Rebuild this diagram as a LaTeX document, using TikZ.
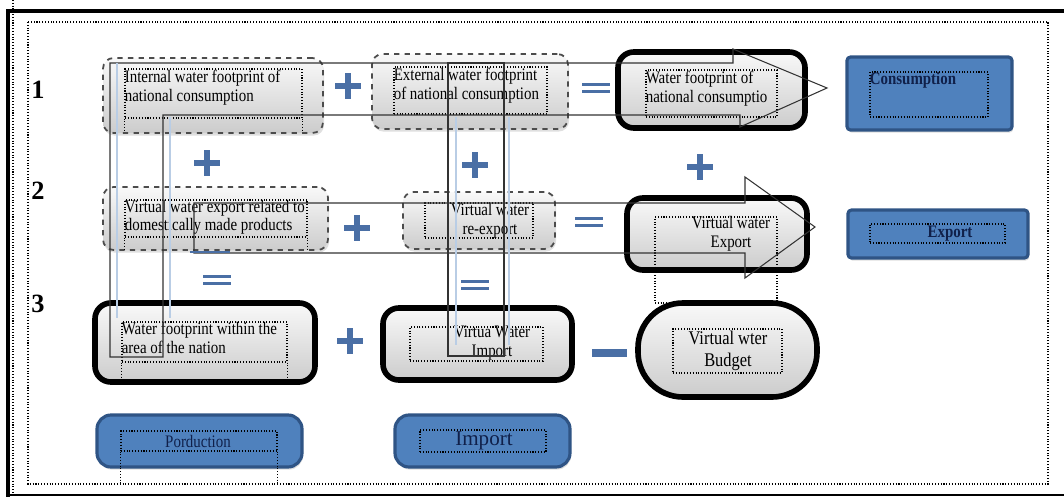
\documentclass[tikz,border=0pt]{standalone}
\usepackage{fontspec}
\setmainfont{Liberation Serif}
\newfontfamily\wordfont[FakeStretch=0.85]{Liberation Serif}
\usetikzlibrary{fit,shadows}
\definecolor{signblue}{HTML}{4A6FA5}
\definecolor{boxblue}{HTML}{4F81BD}
\definecolor{boxline}{HTML}{2F5485}
\definecolor{navy}{HTML}{10204A}
\definecolor{ghostblue}{HTML}{B9CDE5}
\begin{document}
\begin{tikzpicture}[x=0.02cm,y=-0.02cm,font=\wordfont\fontsize{10}{10.8}\selectfont,
	graybox/.style={rounded corners=6pt,top color=gray!5,bottom color=gray!40,inner sep=0pt,
		drop shadow={opacity=.25,shadow xshift=.6pt,shadow yshift=-1.5pt}},
	dashbox/.style={graybox,draw=black!70,dashed,line width=1pt},
	thickbox/.style={graybox,draw=black,line width=3.2pt,rounded corners=9pt},
	bluebox/.style={fill=boxblue,draw=boxline,line width=1.8pt,inner sep=0pt,
		drop shadow={opacity=.25,shadow xshift=.6pt,shadow yshift=-1.5pt}},
	txtframe/.style={draw,densely dotted,line width=.6pt,inner sep=0pt},
	txt/.style={inner sep=0pt,align=left},
	ctxt/.style={inner sep=0pt,align=center},
	bluetxt/.style={inner sep=0pt,text=navy,font=\wordfont\fontsize{10}{12}\selectfont},
	blockarrow/.style={draw=black!80,line width=.6pt},
	ghost/.style={ghostblue,line width=.7pt},
	plus/.style={signblue,line width=3.3pt},
	eqbar/.style={signblue,line width=1.4pt},
	num/.style={font=\rmfamily\bfseries\fontsize{15}{15}\selectfont}]
	\useasboundingbox (0,0) rectangle (1064,497);
	% frame
	\draw[line width=2.2pt] (1064,11) -- (8,11) -- (8,497);
	\draw[line width=1.2pt] (8,495) -- (1064,495);
	\draw[densely dotted,line width=.6pt] (13,0) -- (13,497);
	\draw[densely dotted,line width=.6pt] (28,22) rectangle (1048,484);
	% row numbers
	\node[num] (row1) at (38,90) {1};
	\node[num] (row2) at (38,191) {2};
	\node[num] (row3) at (38,304) {3};
	% row 1
	\node[dashbox,fit={(103,58) (323,133)}] (intern) {};
	\node[dashbox,fit={(372,54) (568,129)}] (extern) {};
	\node[thickbox,fit={(618,52) (805,128)}] (wfcons) {};
	\node[bluebox,rounded corners=2pt,fit={(847,57) (1012,130)}] (cons) {};
	% row 2
	\node[dashbox,fit={(103,187) (328,250)}] (vwexp) {};
	\node[dashbox,fit={(403,192) (555,249)}] (reexp) {};
	\node[thickbox,fit={(627,198) (807,270)}] (vwexport) {};
	\node[bluebox,rounded corners=2pt,fit={(848,210) (1028,258)}] (export) {};
	% row 3
	\node[thickbox,fit={(95,303) (315,382)}] (wfarea) {};
	\node[thickbox,fit={(383,308) (572,380)}] (vwimp) {};
	\node[thickbox,rounded corners=.9cm,fit={(638,303) (817,397)}] (budget) {};
	% row 4
	\node[bluebox,rounded corners=8pt,fit={(97,415) (302,467)}] (prod) {};
	\node[bluebox,rounded corners=8pt,fit={(395,415) (570,467)}] (import) {};
	% text frames
	\node[txtframe,fit={(125,69) (302,118)}] (intern-f) {};
	\node[txtframe,fit={(394,67) (547,114)}] (extern-f) {};
	\node[txtframe,fit={(646,70) (777,117)}] (wfcons-f) {};
	\node[txtframe,fit={(870,72) (988,117)}] (cons-f) {};
	\node[txtframe,fit={(125,200) (307,237)}] (vwexp-f) {};
	\node[txtframe,fit={(425,203) (533,238)}] (reexp-f) {};
	\node[txtframe,fit={(655,217) (777,303)}] (vwexport-f) {};
	\node[txtframe,fit={(870,224) (1005,243)}] (export-f) {};
	\node[txtframe,fit={(122,322) (287,362)}] (wfarea-f) {};
	\node[txtframe,fit={(410,327) (543,361)}] (vwimp-f) {};
	\node[txtframe,fit={(673,329) (782,373)}] (budget-f) {};
	\node[txtframe,fit={(121,431) (277,451)}] (prod-f) {};
	\node[txtframe,fit={(420,430) (546,452)}] (import-f) {};
	\draw[densely dotted,line width=.6pt] (intern-f.south west) -- ++(0,12) (intern-f.south east) -- ++(0,12)
		(vwexp-f.south west) -- ++(0,13) (vwexp-f.south east) -- ++(0,13)
		(wfarea-f.south west) -- ++(0,15) (wfarea-f.south east) -- ++(0,15)
		(prod-f.south west) -- ++(0,33) (prod-f.south east) -- ++(0,33);
	% texts
	\node[txt,anchor=north west] (intern-t) at ([yshift=-1pt]intern-f.north west) {Internal water footprint of\\national consumption};
	\node[txt,anchor=north west] (extern-t) at ([yshift=-1pt]extern-f.north west) {External water footprint\\of national consumption};
	\node[txt,anchor=north west] (wfcons-t) at ([yshift=-1pt]wfcons-f.north west) {Water footprint of\\national consumptio};
	\node[bluetxt,anchor=north west,font=\wordfont\bfseries\fontsize{10}{12}\selectfont] (cons-t) at (cons-f.north west) {Consumption};
	\node[txt,anchor=north west] (vwexp-t) at (vwexp-f.north west) {Virtual water export related to\\domestically made products};
	\node[ctxt] (reexp-t) at (490,221) {Virtual water\\re-export};
	\node[ctxt] (vwexport-t) at (731,234) {Virtual water\\Export};
	\node[bluetxt,font=\wordfont\bfseries\fontsize{10}{12}\selectfont] (export-t) at (950,234) {Export};
	\node[txt,anchor=north west] (wfarea-t) at (wfarea-f.north west) {Water footprint within the\\area of the nation};
	\node[ctxt] (vwimp-t) at (492,343) {Virtua Water\\Import};
	\node[ctxt,font=\wordfont\fontsize{11}{12.5}\selectfont] (budget-t) at (728,351) {Virtual wter\\Budget};
	\node[bluetxt] (prod-t) at (198,441) {Porduction};
	\node[bluetxt,font=\rmfamily\fontsize{12}{14}\selectfont] (import-t) at (484,441) {Import};
	% block arrows
	\draw[blockarrow] (110,357) -- (110,63) -- (733,63) -- (733,49) -- (827,88) -- (740,127) -- (740,115) -- (163,115) -- (163,357) -- cycle;
	\draw[blockarrow] (194,203) -- (745,203) -- (745,177) -- (815,227) -- (745,278) -- (745,253) -- (194,253) -- cycle;
	\draw[blockarrow] (448,63) rectangle (504,356);
	\draw[ghost] (117,63) -- (117,318) (170,117) -- (170,318) (456,117) -- (456,345) (509,117) -- (509,345);
	% signs
	\foreach \x/\y in {348/86,207/163,475/165,700/167,357/228,350/341}{
		\draw[plus] (\x-13,\y) -- (\x+13,\y) (\x,\y-13) -- (\x,\y+13);
	}
	\foreach \x/\y in {596/88,589/222,217/280,475/285}{
		\draw[eqbar] (\x-14,\y-3.5) -- (\x+14,\y-3.5) (\x-14,\y+3.5) -- (\x+14,\y+3.5);
	}
	\draw[eqbar] (190,252) -- (230,252);
	\draw[signblue,line width=4.5pt] (592,353) -- (627,353);
\end{tikzpicture}
\end{document}
